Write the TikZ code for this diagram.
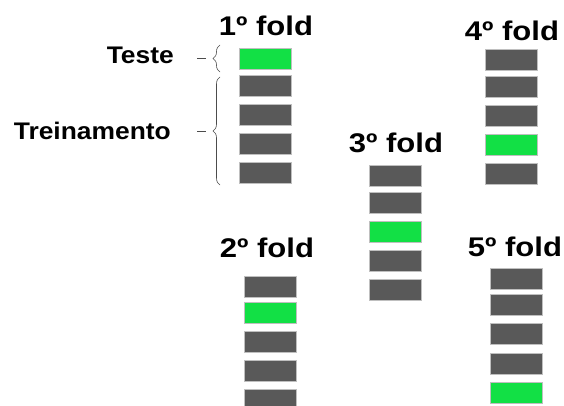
\documentclass[tikz,border=0pt]{standalone}
\usepackage{fontspec}
\setmainfont{Liberation Sans}
\usetikzlibrary{decorations.pathreplacing}
\definecolor{fgray}{HTML}{595959}
\definecolor{fgreen}{HTML}{12E045}
\newcommand{\wideA}[1]{\scalebox{1.15}[1]{#1}}
\newcommand{\wideB}[1]{\scalebox{1.1}[1]{#1}}
\begin{document}
\begin{tikzpicture}[x=1pt,y=-1pt,
  blk/.style={rectangle,inner sep=0pt,minimum width=52pt,minimum height=21pt,draw=white!75!black,line width=0.4pt},
  tr/.style={blk,fill=fgray},
  te/.style={blk,fill=fgreen},
  foldlbl/.style={font=\fontsize{27}{30}\selectfont\bfseries,inner sep=0pt,anchor=base},
  sidelbl/.style={font=\fontsize{24}{27}\selectfont\bfseries,inner sep=0pt,anchor=base east},
  brc/.style={draw=black!70,line width=0.6pt,decorate,decoration={brace,amplitude=7pt,aspect=0.5}}
]
\useasboundingbox (0,0) rectangle (564,406);
% fold 1
\node[foldlbl] (l1) at (266,35.7) {\wideA{1º fold}};
\node[te] (a1) at (265,59) {};
\node[tr] (a2) at (265,86) {};
\node[tr] (a3) at (265,114.5) {};
\node[tr] (a4) at (265,143.5) {};
\node[tr] (a5) at (265,172.5) {};
% fold 2
\node[foldlbl] (l2) at (267,257.3) {\wideA{2º fold}};
\node[tr] (b1) at (270.5,287) {};
\node[te] (b2) at (270.5,313) {};
\node[tr] (b3) at (270.5,341.5) {};
\node[tr] (b4) at (270.5,370.5) {};
\node[tr] (b5) at (270.5,400) {};
% fold 3
\node[foldlbl] (l3) at (396,152.7) {\wideA{3º fold}};
\node[tr] (c1) at (395.5,175.5) {};
\node[tr] (c2) at (395.5,203) {};
\node[te] (c3) at (395.5,231.5) {};
\node[tr] (c4) at (395.5,260.5) {};
\node[tr] (c5) at (395.5,289.5) {};
% fold 4
\node[foldlbl] (l4) at (512,40.7) {\wideA{4º fold}};
\node[tr] (d1) at (511.5,59.5) {};
\node[tr] (d2) at (511.5,86.5) {};
\node[tr] (d3) at (511.5,115.5) {};
\node[te] (d4) at (511.5,144.5) {};
\node[tr] (d5) at (511.5,173.5) {};
% fold 5
\node[foldlbl] (l5) at (515,256) {\wideA{5º fold}};
\node[tr] (e1) at (516,278.5) {};
\node[tr] (e2) at (516,305) {};
\node[tr] (e3) at (516,333.5) {};
\node[tr] (e4) at (516,363.5) {};
\node[te] (e5) at (516,392.5) {};
% side labels
\node[sidelbl] (teste) at (174,63.3) {\wideB{Teste}};
\node[sidelbl] (trein) at (171,139.3) {\wideB{Treinamento}};
% braces
\coordinate (tb) at (220,72);
\coordinate (tt) at (220,45);
\coordinate (rb) at (220,185);
\coordinate (rt) at (220,77);
\draw[brc] (tb) -- (tt);
\draw[brc] (rb) -- (rt);
\coordinate (ttip) at (206,58.5);
\coordinate (rtip) at (206,131);
\coordinate (ttail) at (197,58.5);
\coordinate (rtail) at (197,131);
\draw[draw=black!70,line width=0.6pt] (ttail) -- (ttip);
\draw[draw=black!70,line width=0.6pt] (rtail) -- (rtip);
\end{tikzpicture}
\end{document}
